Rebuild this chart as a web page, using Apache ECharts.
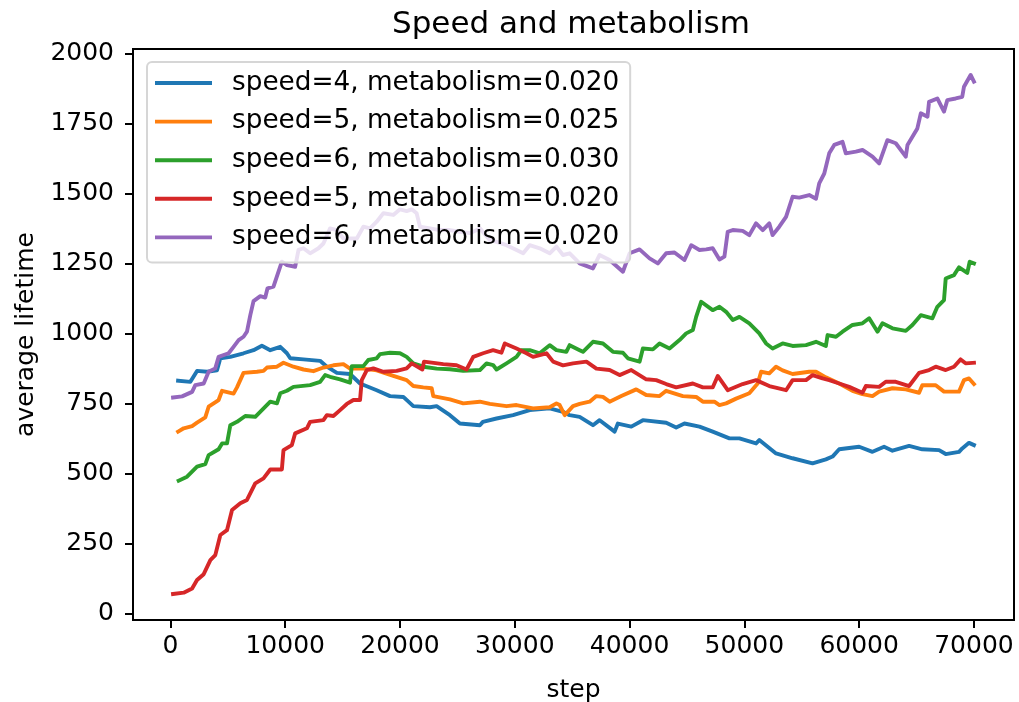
<!DOCTYPE html>
<html>
<head>
<meta charset="utf-8">
<script src="https://cdn.jsdelivr.net/npm/echarts@6/dist/echarts.min.js"></script>
<style>
  html, body { margin: 0; padding: 0; background: #fff; }
  #chart { width: 1019px; height: 702px; }
</style>
</head>
<body>
<div id="chart"></div>
<script>
// Rolling average lifetime per run, sampled at simulation steps.
const seriesNames = [
  'speed=4, metabolism=0.020',
  'speed=5, metabolism=0.025',
  'speed=6, metabolism=0.030',
  'speed=5, metabolism=0.020',
  'speed=6, metabolism=0.020'
];
const seriesColors = ['#1f77b4', '#ff7f0e', '#2ca02c', '#d62728', '#9467bd'];

const xTicks = [0, 10000, 20000, 30000, 40000, 50000, 60000, 70000];
const yTicks = [0, 250, 500, 750, 1000, 1250, 1500, 1750, 2000];

const steps4_020 = [670, 1740, 2320, 3190, 4060, 4350, 5220, 6370, 7240, 7970, 8700, 9570, 10150, 10440, 11590, 13040, 13630, 14500, 15650, 16520, 17970, 19130, 20290, 21160, 22610, 23190, 24350, 25220, 26960, 27220, 28410, 29850, 31300, 33040, 34200, 34780, 35650, 36810, 37390, 38700, 38980, 40150, 41160, 43190, 44060, 44780, 46090, 47240, 48700, 49570, 51020, 51300, 52760, 54200, 55940, 57100, 57680, 58260, 60000, 61160, 62170, 62900, 64350, 65500, 66960, 67540, 68700, 68980, 69570, 70000];
const life4_020 = [831, 827, 866, 863, 868, 911, 916, 929, 940, 956, 940, 952, 929, 911, 907, 902, 881, 859, 855, 821, 797, 776, 773, 740, 736, 740, 708, 678, 672, 684, 696, 708, 726, 732, 720, 708, 702, 672, 690, 649, 678, 667, 690, 681, 664, 678, 667, 649, 625, 625, 607, 619, 571, 554, 536, 550, 560, 586, 595, 577, 595, 581, 598, 586, 583, 569, 577, 589, 609, 601];

const steps5_025 = [670, 1160, 1890, 2320, 3040, 3330, 4200, 4500, 5500, 5800, 6370, 7540, 8110, 8410, 9280, 9850, 10720, 11590, 12460, 13330, 14200, 15070, 15650, 16810, 17970, 19420, 20580, 21160, 22030, 22760, 22900, 24350, 25510, 26960, 27830, 29280, 30150, 31590, 33040, 33630, 33910, 34350, 35070, 35650, 36520, 37110, 37680, 38260, 39280, 40580, 41450, 42610, 43190, 44640, 45800, 46380, 47390, 47830, 48410, 49280, 50430, 51160, 51460, 52170, 52760, 53330, 54200, 55650, 56240, 57100, 58260, 59420, 60290, 61160, 61740, 62900, 64060, 65220, 65500, 66670, 67390, 68700, 69130, 69570, 70000];
const life5_025 = [649, 661, 669, 681, 700, 738, 762, 795, 785, 807, 859, 863, 866, 878, 881, 895, 881, 871, 865, 878, 886, 890, 874, 874, 868, 848, 833, 812, 807, 804, 776, 764, 750, 756, 748, 740, 744, 732, 736, 750, 744, 708, 740, 748, 756, 776, 773, 756, 776, 800, 780, 776, 795, 776, 773, 756, 756, 744, 750, 767, 786, 821, 863, 857, 881, 868, 855, 863, 863, 843, 821, 795, 783, 776, 792, 804, 800, 788, 815, 815, 792, 792, 833, 839, 819];

const steps6_030 = [720, 1450, 2320, 3040, 3330, 4200, 4500, 4930, 5220, 5800, 6520, 7390, 8700, 9280, 9570, 10150, 10720, 12170, 13040, 13480, 13910, 14780, 15650, 15800, 16810, 17240, 17970, 18260, 19130, 20000, 20580, 21160, 22030, 23190, 24350, 25510, 26960, 27540, 28110, 28410, 29280, 30150, 30580, 31300, 32170, 33040, 33630, 34490, 34780, 35650, 35940, 36810, 37680, 38550, 39420, 39850, 40870, 41160, 42030, 42610, 43480, 44350, 44930, 45510, 45800, 46240, 47240, 47830, 48410, 48990, 49570, 50430, 51300, 51890, 52460, 53330, 54200, 55370, 56240, 57100, 57250, 57980, 58550, 59420, 60290, 60870, 61600, 62030, 62900, 64060, 64640, 65370, 66380, 66810, 67390, 67540, 68260, 68700, 69420, 69630, 70000];
const life6_030 = [474, 488, 524, 533, 565, 586, 607, 607, 672, 684, 705, 702, 756, 750, 786, 795, 809, 815, 827, 851, 845, 836, 824, 883, 883, 905, 911, 926, 931, 929, 916, 893, 881, 874, 872, 866, 869, 893, 887, 871, 893, 916, 940, 940, 929, 958, 940, 934, 958, 940, 934, 970, 964, 934, 931, 911, 899, 946, 943, 964, 946, 976, 1000, 1012, 1059, 1113, 1083, 1095, 1077, 1048, 1059, 1036, 1000, 964, 946, 964, 955, 958, 970, 955, 994, 988, 1006, 1030, 1036, 1054, 1006, 1036, 1018, 1009, 1030, 1065, 1054, 1095, 1119, 1196, 1208, 1236, 1216, 1256, 1250];

const steps5_020 = [230, 1160, 1890, 2320, 2900, 3480, 3910, 4350, 4930, 5370, 6090, 6670, 7390, 8110, 8700, 9710, 9850, 10580, 10870, 11890, 12170, 13330, 13630, 14200, 14780, 15370, 15940, 16520, 16670, 17110, 17680, 18550, 19710, 20580, 21020, 21950, 22090, 23770, 24930, 25800, 26380, 27240, 28110, 28840, 29130, 30150, 31020, 31590, 32760, 33340, 34200, 35070, 36240, 37110, 38260, 39130, 40150, 41450, 42320, 43190, 44060, 45510, 46380, 47240, 47680, 48550, 49850, 51020, 52170, 53630, 54200, 55370, 55940, 56810, 57390, 58260, 59130, 60290, 60580, 61740, 62320, 63190, 64350, 65220, 66090, 66670, 67540, 68260, 68840, 69270, 70000];
const life5_020 = [69, 74, 89, 119, 140, 190, 208, 280, 297, 369, 393, 405, 464, 482, 514, 514, 583, 601, 643, 661, 684, 690, 708, 705, 726, 748, 762, 762, 833, 869, 875, 863, 866, 875, 893, 871, 899, 890, 886, 871, 916, 929, 940, 931, 964, 946, 929, 916, 929, 899, 886, 893, 899, 874, 869, 851, 869, 836, 833, 819, 807, 821, 807, 807, 848, 797, 819, 833, 812, 797, 833, 833, 851, 839, 833, 821, 809, 788, 812, 809, 827, 827, 812, 859, 869, 881, 869, 881, 907, 893, 895];

const steps6_020 = [230, 1020, 1890, 2170, 2900, 3330, 3910, 4200, 5070, 5500, 5940, 6370, 6670, 6960, 7240, 7830, 8260, 8460, 8980, 9710, 10150, 10870, 11160, 11590, 12170, 12900, 13330, 13910, 14500, 15070, 16240, 16810, 17390, 17970, 18550, 19420, 20000, 20580, 21020, 21450, 21740, 22610, 23480, 24350, 25220, 26090, 26960, 27830, 28410, 29280, 30150, 30730, 31300, 32170, 33040, 33630, 34200, 34780, 35650, 36810, 37390, 38260, 39420, 40000, 40870, 41740, 42460, 43190, 43910, 44780, 45370, 46090, 46670, 47240, 47830, 48260, 48550, 48990, 49850, 50430, 51020, 51600, 52170, 52460, 53040, 53630, 54200, 54780, 55650, 56240, 56520, 56960, 57390, 57830, 58550, 58840, 59710, 60290, 61160, 61740, 62460, 63190, 64060, 64210, 64640, 65070, 65370, 65950, 66090, 66810, 67390, 67680, 68410, 68980, 69130, 69710, 70000];
const life6_020 = [771, 775, 791, 815, 821, 863, 875, 916, 929, 952, 976, 988, 1006, 1065, 1115, 1133, 1128, 1161, 1167, 1256, 1244, 1238, 1298, 1304, 1286, 1304, 1321, 1375, 1369, 1339, 1339, 1381, 1375, 1399, 1429, 1423, 1443, 1437, 1443, 1429, 1381, 1375, 1369, 1369, 1363, 1358, 1375, 1333, 1327, 1315, 1298, 1286, 1315, 1304, 1286, 1310, 1280, 1286, 1250, 1232, 1280, 1262, 1220, 1286, 1300, 1268, 1250, 1286, 1289, 1262, 1315, 1298, 1300, 1304, 1264, 1274, 1363, 1369, 1366, 1351, 1393, 1369, 1393, 1351, 1381, 1416, 1488, 1485, 1494, 1481, 1536, 1571, 1643, 1673, 1684, 1643, 1649, 1655, 1631, 1607, 1690, 1679, 1631, 1673, 1702, 1732, 1786, 1774, 1827, 1839, 1792, 1833, 1839, 1845, 1881, 1923, 1899];

const allSteps = [steps4_020, steps5_025, steps6_030, steps5_020, steps6_020];
const allLife = [life4_020, life5_025, life6_030, life5_020, life6_020];

// Axis extents padded by 5% of the data range on each side.
function padded(arrays) {
  let lo = Infinity, hi = -Infinity;
  arrays.forEach(a => a.forEach(v => { lo = Math.min(lo, v); hi = Math.max(hi, v); }));
  const m = (hi - lo) * 0.05;
  return [lo - m, hi + m];
}
const xExt = padded(allSteps);
const yExt = padded(allLife);

const FONT = 'DejaVu Sans';
const LINE_W = 3.9;

// Legend handle: a horizontal stroke centred in the 57x26 item box
// (the two specks at the corners fix the path's bounding box).
const LEGEND_HANDLE = 'path://M0,0h0.01v0.01h-0.01z M0,11.05h57v3.9h-57z M56.99,25.99h0.01v0.01h-0.01z';

const plainNumber = v => String(Math.round(v));

const series = seriesNames.map((name, i) => ({
  name: name,
  type: 'line',
  data: allSteps[i].map((s, k) => [s, allLife[i][k]]),
  showSymbol: false,
  symbol: 'none',
  lineStyle: { color: seriesColors[i], width: LINE_W, join: 'round', cap: 'square' },
  itemStyle: { color: seriesColors[i] },
  animation: false
}));

const chart = echarts.init(document.getElementById('chart'), null, { renderer: 'canvas' });
chart.setOption({
  backgroundColor: '#ffffff',
  animation: false,
  title: {
    text: 'Speed and metabolism',
    left: 392,
    top: 9,
    padding: 0,
    textStyle: { fontFamily: FONT, fontSize: 31, fontWeight: 'normal', color: '#000' }
  },
  grid: {
    left: 133, right: 5, top: 49, bottom: 82,
    outerBoundsMode: 'none',
    containLabel: false,
    show: true, borderColor: '#000', borderWidth: 2, backgroundColor: '#fff'
  },
  legend: {
    orient: 'vertical',
    left: 147,
    top: 62,
    padding: [8, 11, 12, 8],
    icon: LEGEND_HANDLE,
    itemWidth: 57,
    itemHeight: 26,
    itemGap: 12.6,
    backgroundColor: 'rgba(255,255,255,0.8)',
    borderColor: '#d6d6d6',
    borderWidth: 2,
    borderRadius: 5,
    data: seriesNames,
    textStyle: { fontFamily: FONT, fontSize: 26.3, color: '#000', lineHeight: 26, padding: [0, 0, 0, 15] }
  },
  xAxis: {
    type: 'value',
    min: xExt[0],
    max: xExt[1],
    name: 'step',
    nameLocation: 'middle',
    nameGap: 58,
    nameTextStyle: { fontFamily: FONT, fontSize: 25, color: '#000' },
    axisLine: { show: true, onZero: false, lineStyle: { color: '#000', width: 2 } },
    axisTick: { show: true, length: 8, lineStyle: { color: '#000', width: 2 }, customValues: xTicks },
    axisLabel: { fontFamily: FONT, fontSize: 25, color: '#000', margin: 14, customValues: xTicks, formatter: plainNumber },
    splitLine: { show: false }
  },
  yAxis: {
    type: 'value',
    min: yExt[0],
    max: yExt[1],
    name: 'average lifetime',
    nameLocation: 'middle',
    nameGap: 88,
    nameTextStyle: { fontFamily: FONT, fontSize: 25, color: '#000' },
    axisLine: { show: true, onZero: false, lineStyle: { color: '#000', width: 2 } },
    axisTick: { show: true, length: 8, lineStyle: { color: '#000', width: 2 }, customValues: yTicks },
    axisLabel: { fontFamily: FONT, fontSize: 25, color: '#000', margin: 19, customValues: yTicks, formatter: plainNumber },
    splitLine: { show: false }
  },
  series: series
});
</script>
</body>
</html>
